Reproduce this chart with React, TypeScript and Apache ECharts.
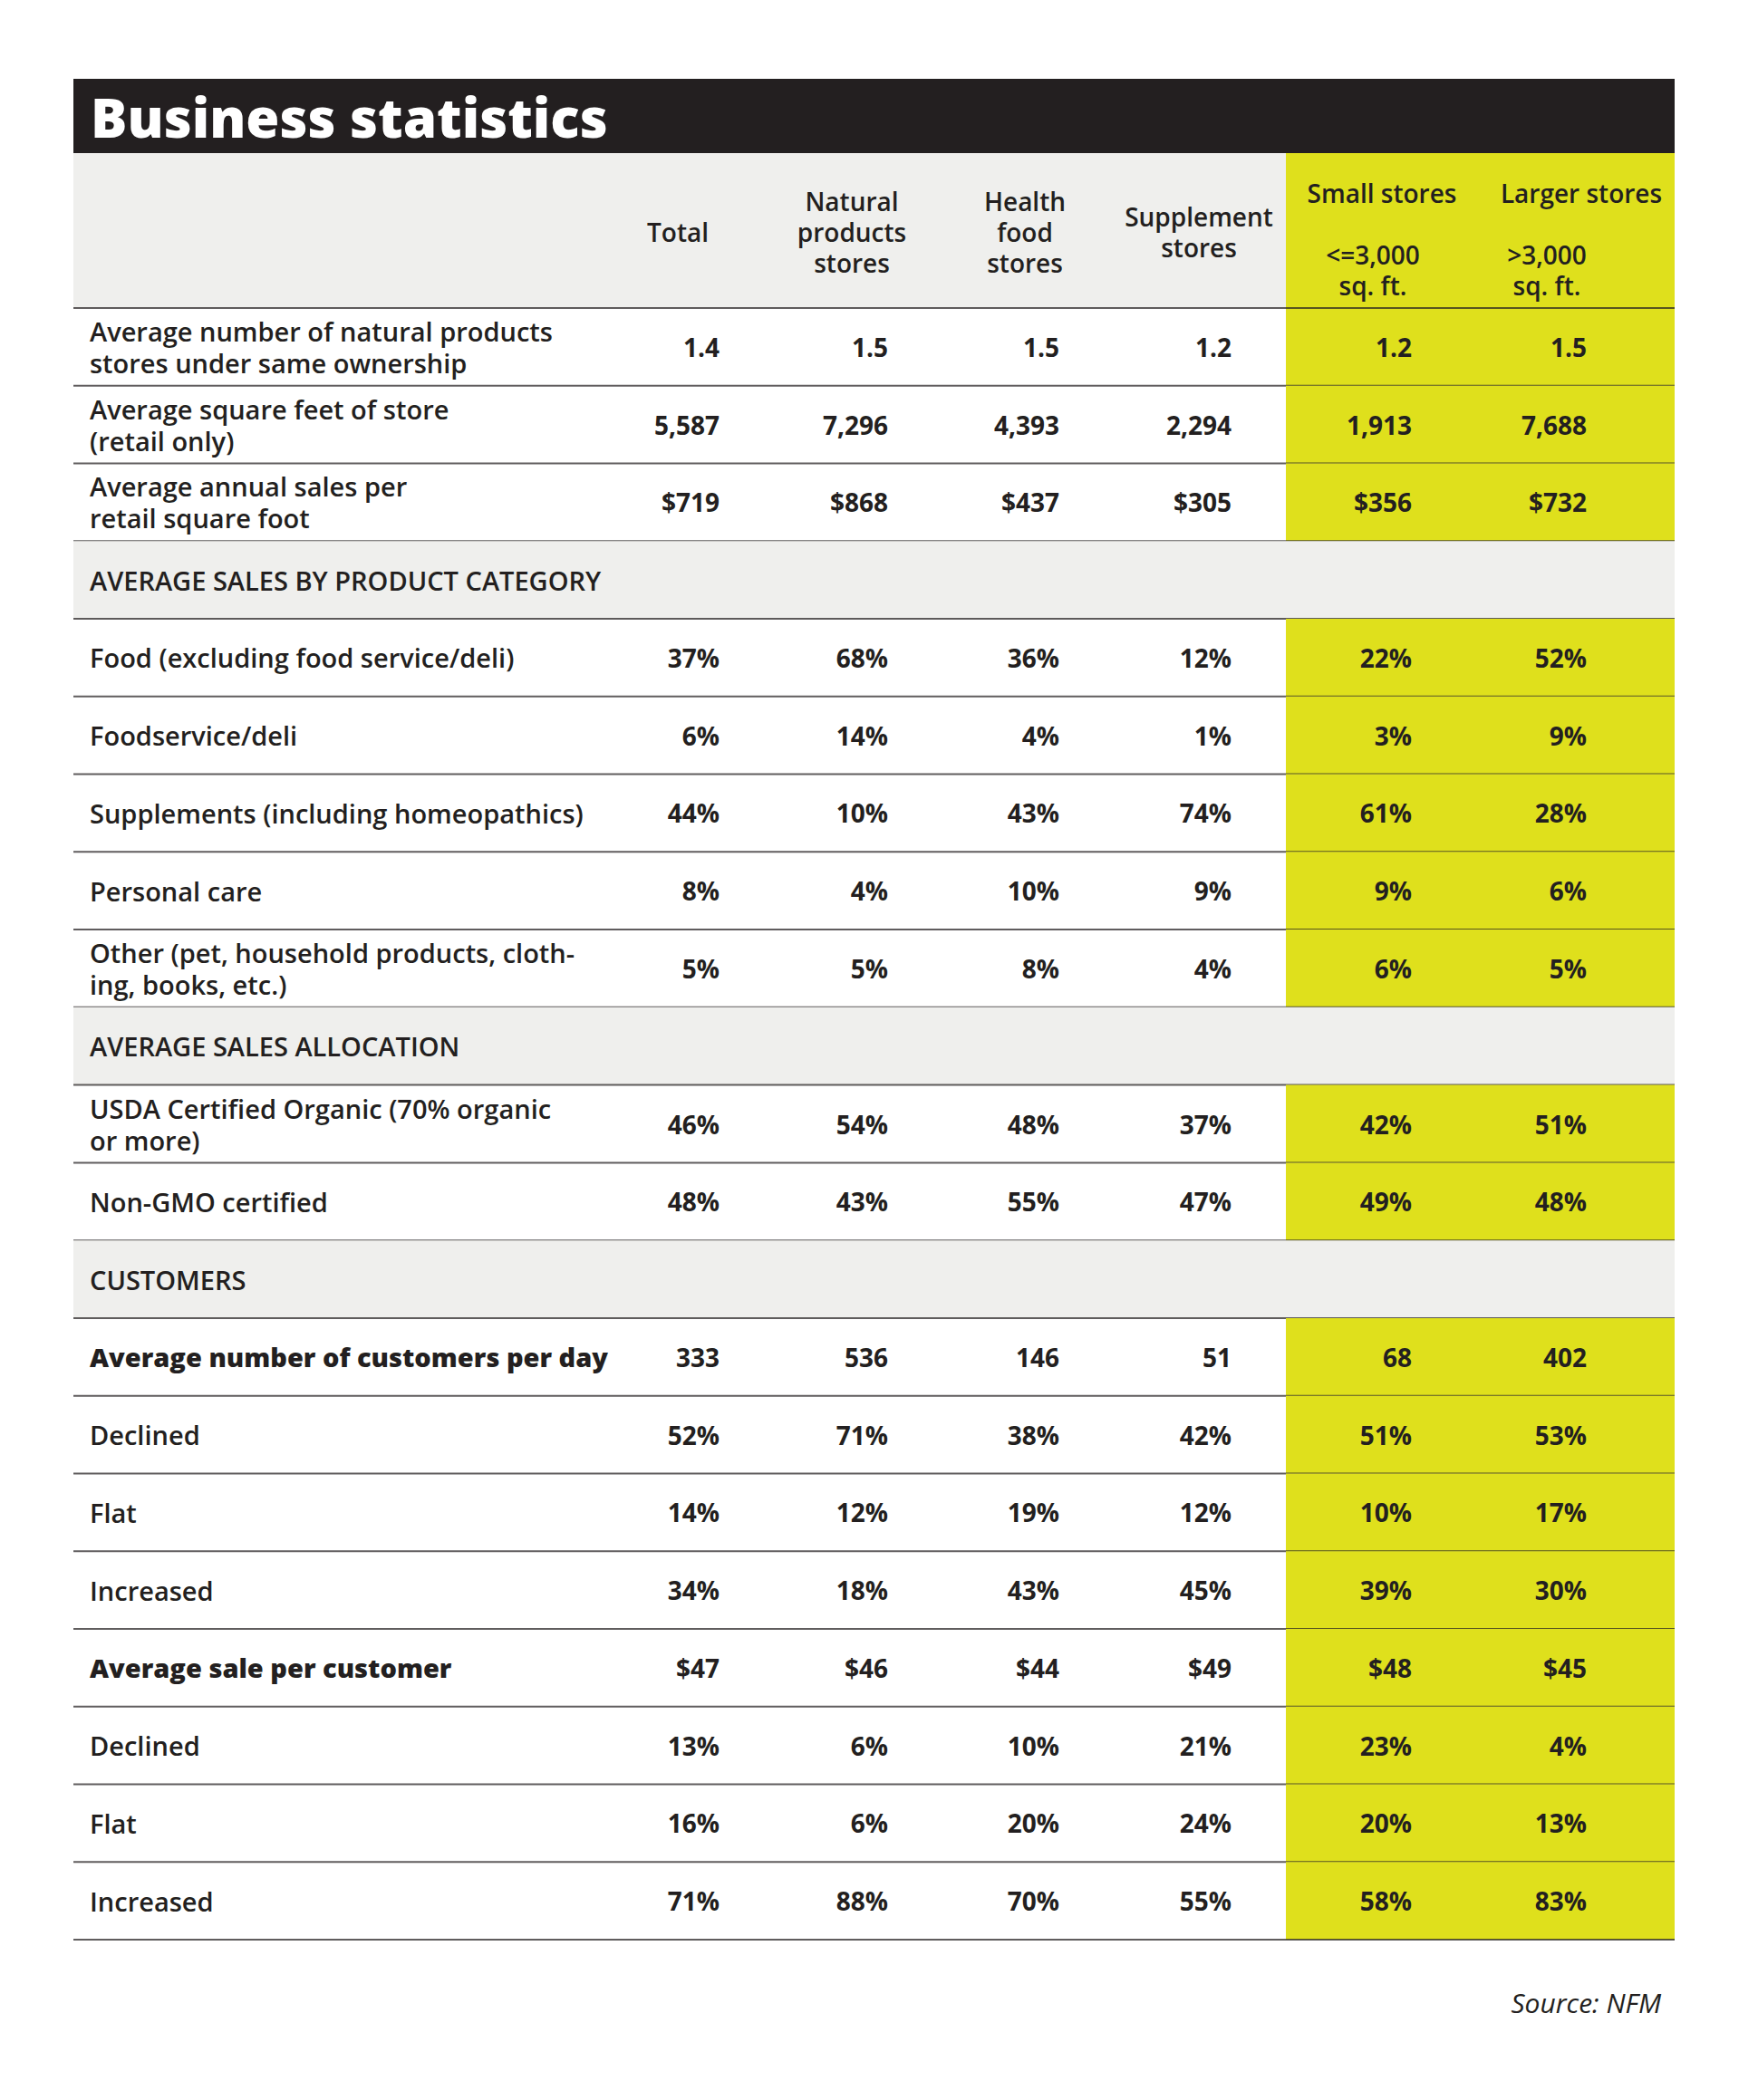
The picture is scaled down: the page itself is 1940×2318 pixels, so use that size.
import React, { useEffect, useRef } from "react";
import * as echarts from "echarts";

// ---------- DATA ----------
const title = "Business statistics";
const source = "Source: NFM";

const headerMain = ["Total", "Natural\nproducts\nstores", "Health\nfood\nstores", "Supplement\nstores"];
const headerSizeTitles = ["Small stores", "Larger stores"];
const headerSizeSubs = ["<=3,000\nsq. ft.", ">3,000\nsq. ft."];

const rowLabels = [
  "Average number of natural products\nstores under same ownership",
  "Average square feet of store\n(retail only)",
  "Average annual sales per\nretail square foot",
  "AVERAGE SALES BY PRODUCT CATEGORY",
  "Food (excluding food service/deli)",
  "Foodservice/deli",
  "Supplements (including homeopathics)",
  "Personal care",
  "Other (pet, household products, cloth-\ning, books, etc.)",
  "AVERAGE SALES ALLOCATION",
  "USDA Certified Organic (70% organic\nor more)",
  "Non-GMO certified",
  "CUSTOMERS",
  "Average number of customers per day",
  "Declined",
  "Flat",
  "Increased",
  "Average sale per customer",
  "Declined",
  "Flat",
  "Increased",
];

// kind: 'sec' section header, 'bold' emphasized row, 'row' normal
const rowKinds = ["row", "row", "row", "sec", "row", "row", "row", "row", "row", "sec", "row", "row", "sec", "bold", "row", "row", "row", "bold", "row", "row", "row"];
// unit: dec, int, usd, pct
const rowUnits = ["dec", "int", "usd", "", "pct", "pct", "pct", "pct", "pct", "", "pct", "pct", "", "int", "pct", "pct", "pct", "usd", "pct", "pct", "pct"];

const totalVals = [1.4, 5587, 719, null, 37, 6, 44, 8, 5, null, 46, 48, null, 333, 52, 14, 34, 47, 13, 16, 71];
const naturalVals = [1.5, 7296, 868, null, 68, 14, 10, 4, 5, null, 54, 43, null, 536, 71, 12, 18, 46, 6, 6, 88];
const healthVals = [1.5, 4393, 437, null, 36, 4, 43, 10, 8, null, 48, 55, null, 146, 38, 19, 43, 44, 10, 20, 70];
const supplementVals = [1.2, 2294, 305, null, 12, 1, 74, 9, 4, null, 37, 47, null, 51, 42, 12, 45, 49, 21, 24, 55];
const smallVals = [1.2, 1913, 356, null, 22, 3, 61, 9, 6, null, 42, 49, null, 68, 51, 10, 39, 48, 23, 20, 58];
const largerVals = [1.5, 7688, 732, null, 52, 9, 28, 6, 5, null, 51, 48, null, 402, 53, 17, 30, 45, 4, 13, 83];

const valueColumns = [totalVals, naturalVals, healthVals, supplementVals, smallVals, largerVals];

// ---------- LAYOUT / STYLE ----------
const W = 1940;
const H = 2318;
const TABLE_L = 81;
const TABLE_R = 1848;
const YELLOW_L = 1419;
const TITLE_TOP = 87;
const HEADER_TOP = 169;
const BODY_TOP = 340;
const BODY_BOTTOM = 2141;
const LABEL_X = 99;
const VALUE_RIGHT = [794, 980, 1169, 1359, 1558, 1751];
const HEADER_CX = [748, 940, 1131, 1323];
const SIZE_TITLE_CX = [1525, 1745];
const SIZE_SUB_CX = [1515, 1707];

const INK = "#231f20";
const YELLOW = "#dfe01c";
const GRAY = "#efefed";
const LINE = "rgba(35,31,32,0.72)";
const FONT = '"Open Sans", "Noto Sans", sans-serif';
const FS = 29;
const FS_VAL = 28;
const FS_HEAD = 28;
const LH = 35;

function fmt(v: number | null, unit: string): string {
  if (v === null || v === undefined) return "";
  if (unit === "dec") return v.toFixed(1);
  if (unit === "int") return v.toLocaleString("en-US");
  if (unit === "usd") return "$" + v.toLocaleString("en-US");
  if (unit === "pct") return v + "%";
  return String(v);
}

export default function App() {
  const ref = useRef<HTMLDivElement>(null);
  useEffect(() => {
    if (!ref.current) return;
    const chart = echarts.init(ref.current, undefined, { renderer: "svg" });

    const graphics: any[] = [];
    // title bar
    graphics.push({
      type: "rect",
      shape: { x: TABLE_L, y: TITLE_TOP, width: TABLE_R - TABLE_L, height: HEADER_TOP - TITLE_TOP },
      style: { fill: INK },
      silent: true,
    });
    graphics.push({
      type: "text",
      style: {
        text: title, x: 100, y: 129, align: "left", verticalAlign: "middle",
        fill: "#ffffff", fontFamily: FONT, fontWeight: 800, fontSize: 60,
      },
    });
    // header background
    graphics.push({
      type: "rect",
      shape: { x: TABLE_L, y: HEADER_TOP, width: YELLOW_L - TABLE_L, height: BODY_TOP - HEADER_TOP },
      style: { fill: GRAY }, silent: true,
    });
    graphics.push({
      type: "rect",
      shape: { x: YELLOW_L, y: HEADER_TOP, width: TABLE_R - YELLOW_L, height: BODY_TOP - HEADER_TOP },
      style: { fill: YELLOW }, silent: true,
    });
    headerMain.forEach((t, k) => {
      graphics.push({
        type: "text",
        style: {
          text: t, x: HEADER_CX[k], y: 256, align: "center", verticalAlign: "middle",
          fill: INK, fontFamily: FONT, fontWeight: 600, fontSize: FS_HEAD, lineHeight: 34,
        },
      });
    });
    headerSizeTitles.forEach((t, k) => {
      graphics.push({
        type: "text",
        style: {
          text: t, x: SIZE_TITLE_CX[k], y: 213, align: "center", verticalAlign: "middle",
          fill: INK, fontFamily: FONT, fontWeight: 600, fontSize: FS_HEAD, lineHeight: 34,
        },
      });
    });
    headerSizeSubs.forEach((t, k) => {
      graphics.push({
        type: "text",
        style: {
          text: t, x: SIZE_SUB_CX[k], y: 298, align: "center", verticalAlign: "middle",
          fill: INK, fontFamily: FONT, fontWeight: 600, fontSize: FS_HEAD, lineHeight: 34,
        },
      });
    });
    graphics.push({
      type: "line",
      shape: { x1: TABLE_L, y1: BODY_TOP, x2: TABLE_R, y2: BODY_TOP },
      style: { stroke: LINE, lineWidth: 2 }, silent: true, z: 10,
    });
    graphics.push({
      type: "text",
      style: {
        text: source, x: 1833, y: 2210, align: "right", verticalAlign: "middle",
        fill: INK, fontFamily: FONT, fontStyle: "italic", fontWeight: 400, fontSize: 30,
      },
    });

    const option: any = {
      animation: false,
      backgroundColor: "#ffffff",
      grid: { left: 0, right: 0, top: BODY_TOP, bottom: H - BODY_BOTTOM },
      xAxis: { type: "value", min: 0, max: W, show: false },
      yAxis: {
        type: "category",
        inverse: true,
        data: rowLabels.map((_, i) => String(i)),
        show: false,
      },
      graphic: graphics,
      series: [
        {
          type: "custom",
          data: rowLabels.map((_, i) => [0, i]),
          renderItem: (params: any, api: any) => {
            const i = api.value(1);
            const cy = api.coord([0, i])[1];
            const h = api.size([0, 1])[1];
            const top = cy - h / 2;
            const bottom = cy + h / 2;
            const kind = rowKinds[i];
            const xL = api.coord([TABLE_L, i])[0];
            const xR = api.coord([TABLE_R, i])[0];
            const xY = api.coord([YELLOW_L, i])[0];
            const children: any[] = [];
            if (kind === "sec") {
              children.push({ type: "rect", shape: { x: xL, y: top, width: xR - xL, height: h }, style: { fill: GRAY } });
            } else {
              children.push({ type: "rect", shape: { x: xY, y: top, width: xR - xY, height: h }, style: { fill: YELLOW } });
            }
            const isBold = kind === "bold";
            children.push({
              type: "text",
              style: {
                text: rowLabels[i],
                x: api.coord([LABEL_X, i])[0],
                y: cy,
                align: "left",
                verticalAlign: "middle",
                fill: INK,
                fontFamily: FONT,
                fontWeight: isBold ? 800 : 600,
                fontSize: FS,
                lineHeight: LH,
              },
            });
            if (kind !== "sec") {
              valueColumns.forEach((col, k) => {
                children.push({
                  type: "text",
                  style: {
                    text: fmt(col[i], rowUnits[i]),
                    x: api.coord([VALUE_RIGHT[k], i])[0],
                    y: cy,
                    align: "right",
                    verticalAlign: "middle",
                    fill: INK,
                    fontFamily: FONT,
                    fontWeight: 700,
                    fontSize: FS_VAL,
                  },
                });
              });
            }
            children.push({
              type: "line",
              shape: { x1: xL, y1: bottom, x2: xR, y2: bottom },
              style: { stroke: LINE, lineWidth: 2 },
            });
            return { type: "group", children };
          },
        },
      ],
    };
    chart.setOption(option);
    return () => chart.dispose();
  }, []);

  return (
    <div
      ref={ref}
      style={{ position: "absolute", left: 0, top: 0, width: W, height: H, background: "#ffffff" }}
    />
  );
}
